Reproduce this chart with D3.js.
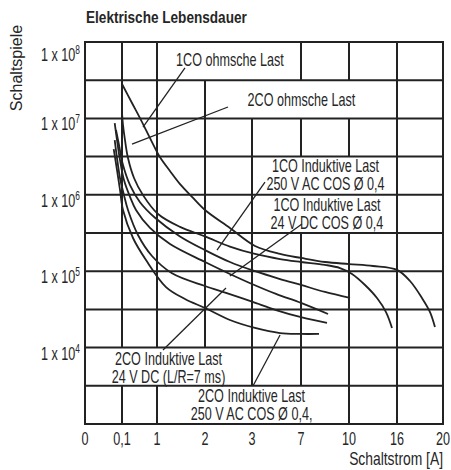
<!DOCTYPE html>
<html>
<head>
<meta charset="utf-8">
<script src="https://cdn.jsdelivr.net/npm/d3@7"></script>
<style>
  body { margin: 0; background: #fff; }
  svg { font-family: "Liberation Sans", Arial, sans-serif; }
</style>
</head>
<body>
<div id="chart"></div>
<script>
const width = 451
const height = 470

// x axis: switching current [A], tick positions are not proportional
const xTicks = [0, 0.1, 1, 2, 3, 7, 10, 16, 20]
const xTickLabels = ["0", "0,1", "1", "2", "3", "7", "10", "16", "20"]
const yTicks = [1e4, 1e5, 1e6, 1e7, 1e8]
const yExp = ["4", "5", "6", "7", "8"]

// curves: [current A, switching cycles]
const co1Ohm = [[0.1, 2.82e7], [0.357, 1.59e7], [0.589, 9.5e6], [0.846, 5.2e6], [1.06, 3.12e6], [1.27, 2.05e6],
  [1.48, 1.38e6], [1.73, 9.4e5], [2.0, 6.32e5], [2.53, 3.68e5], [3.245, 2.14e5], [5.29, 1.68e5], [7.0, 1.49e5],
  [8.5, 1.32e5], [10, 1.24e5], [13, 1.17e5], [16, 1.04e5], [17.13, 7.44e4], [18.17, 4.46e4], [18.87, 2.92e4], [19.3, 1.86e4]]
const co2Ohm = [[0.1, 1.18e7], [0.126, 8.2e6], [0.177, 5.2e6], [0.254, 3.03e6], [0.409, 1.66e6], [0.64, 9.9e5],
  [1.021, 5.6e5], [1.479, 3.8e5], [2.0, 2.85e5], [2.53, 2.1e5], [3.245, 1.68e5], [5.29, 1.44e5], [7.0, 1.32e5],
  [8.5, 1.21e5], [9.44, 1.10e5], [10.375, 9.2e4], [12, 6.6e4], [13.5, 4.46e4], [14.625, 2.92e4], [15.375, 1.81e4]]
const co1Ind250 = [[0.0838, 7.05e6], [0.0919, 4.49e6], [0.126, 2.45e6], [0.306, 1.34e6], [0.563, 8.0e5],
  [0.949, 5.0e5], [1.479, 2.85e5], [2.0, 1.89e5], [2.53, 1.32e5], [3.245, 1.0e5], [5.29, 7.9e4], [7.0, 6.6e4],
  [8.5, 5.35e4], [10.125, 4.46e4]]
const co1Ind24 = [[0.0803, 8.7e6], [0.0865, 5.2e6], [0.0946, 2.85e6], [0.151, 1.56e6], [0.306, 9.4e5],
  [0.46, 6.32e5], [0.82, 3.68e5], [1.271, 2.27e5], [2.0, 1.32e5], [2.53, 9.2e4], [3.0, 6.8e4], [4.96, 5.04e4],
  [7.0, 3.84e4], [8.69, 2.75e4]]
const co2Ind24 = [[0.0803, 5.2e6], [0.0865, 3.03e6], [0.0946, 1.66e6], [0.151, 9.9e5], [0.254, 6.32e5],
  [0.511, 2.98e5], [0.871, 1.58e5], [1.3125, 9.4e4], [2.0, 6.4e4], [2.447, 5.2e4], [3.0, 4.0e4], [4.96, 3.1e4],
  [7.0, 2.5e4], [8.625, 2.1e4]]
const co2Ind250 = [[0.0776, 3.97e6], [0.0865, 2.11e6], [0.0946, 1.16e6], [0.126, 6.32e5], [0.383, 2.72e5],
  [0.717, 1.4e5], [1.1875, 6.2e4], [1.583, 4.33e4], [2.0, 3.3e4], [2.53, 2.3e4], [3.245, 1.81e4], [5.29, 1.55e4],
  [6.92, 1.51e4], [8.125, 1.51e4]]
const curves = [co1Ohm, co2Ohm, co1Ind250, co1Ind24, co2Ind24, co2Ind250]

// labels: text lines, centre current, baseline of first line (cycles), leader [from, to]
const labels = [
  { lines: ["1CO ohmsche Last"], x: 2.53, y: 4.85e7, leader: [[1.583, 4.57e7], [0.64, 7.7e6]] },
  { lines: ["2CO ohmsche Last"], x: 7.03, y: 1.45e7, leader: [[2.489, 1.41e7], [0.357, 4.62e6]] },
  { lines: ["1CO Induktive Last", "250 V AC COS Ø 0,4"], x: 8.53, y: 1.99e6, leader: [[4.06, 1.47e6], [2.255, 1.89e5]] },
  { lines: ["1CO Induktive Last", "24 V DC COS Ø 0,4"], x: 8.62, y: 6.14e5, leader: [[7.06, 4.15e5], [2.53, 8.65e4]] },
  { lines: ["2CO Induktive Last", "24 V DC (L/R=7 ms)"], x: 1.24, y: 5.92e3, leader: [[1.125, 9.3e3], [2.447, 6.03e4]] },
  { lines: ["2CO Induktive Last", "250 V AC COS Ø 0,4,"], x: 2.99, y: 1.94e3, leader: [[3.08, 3.14e3], [5.29, 1.46e4]] }
]

const plotLeft = 85, plotTop = 42, plotBottom = 424
const colW = [37, 35, 48, 47, 49, 48, 48, 46]
const xRange = colW.reduce((a, w) => (a.push(a[a.length - 1] + w), a), [plotLeft])
const plotRight = xRange[xRange.length - 1]

const x = d3.scaleLinear().domain(xTicks).range(xRange)
const y = d3.scaleLog().domain([1e3, 1e8]).range([plotBottom, plotTop])
const yGrid = d3.range(6, 17).map(k => Math.pow(10, k / 2))

const ink = "#222"
const textInk = "#262626"
const narrow = 0.7   // squeeze Liberation Sans towards a condensed face

const svg = d3.select("#chart").append("svg")
    .attr("width", width)
    .attr("height", height)

const squeeze = (px, py, k) => `translate(${px},${py}) scale(${k},1)`

// vertical grid
svg.append("g")
    .selectAll("line")
    .data(xTicks)
    .join("line")
    .attr("x1", d => x(d)).attr("x2", d => x(d))
    .attr("y1", plotTop).attr("y2", plotBottom)
    .attr("stroke", ink).attr("stroke-width", 2)

const boxLayer = svg.append("g")
const hLayer = svg.append("g")
const curveLayer = svg.append("g")
const leaderLayer = svg.append("g")
const labelLayer = svg.append("g")
    .attr("font-size", 18)
    .attr("fill", textInk)
    .attr("text-anchor", "middle")

const lab = labelLayer.selectAll("text")
    .data(labels)
    .join("text")
    .attr("transform", d => squeeze(x(d.x), y(d.y), narrow))

lab.selectAll("tspan")
    .data(d => d.lines)
    .join("tspan")
    .attr("x", 0)
    .attr("dy", (d, i) => i ? 18.5 : 0)
    .text(d => d)

// white boxes hide the vertical grid behind the labels, row by row
const gridPx = yGrid.map(y).sort((a, b) => a - b)
lab.each(function (d) {
  const b = this.getBBox()
  const cx = x(d.x), cy = y(d.y)
  const x0 = cx + b.x * narrow, w = b.width * narrow
  const y0 = d3.max(gridPx.filter(g => g <= cy + b.y + 3))
  const y1 = d3.min(gridPx.filter(g => g >= cy + b.y + b.height - 3))
  boxLayer.append("rect")
      .attr("x", x0 - 4).attr("width", w + 8)
      .attr("y", y0).attr("height", y1 - y0)
      .attr("fill", "#fff")
})

hLayer.selectAll("line")
    .data(yGrid)
    .join("line")
    .attr("x1", plotLeft).attr("x2", plotRight)
    .attr("y1", d => y(d)).attr("y2", d => y(d))
    .attr("stroke", ink).attr("stroke-width", 2)

hLayer.append("rect")
    .attr("x", plotLeft).attr("y", plotTop)
    .attr("width", plotRight - plotLeft).attr("height", plotBottom - plotTop)
    .attr("fill", "none").attr("stroke", ink).attr("stroke-width", 2)

const line = d3.line()
    .x(d => x(d[0]))
    .y(d => y(d[1]))
    .curve(d3.curveCatmullRom.alpha(0.5))

curveLayer.selectAll("path")
    .data(curves)
    .join("path")
    .attr("d", line)
    .attr("fill", "none")
    .attr("stroke", ink)
    .attr("stroke-width", 1.8)

leaderLayer.selectAll("line")
    .data(labels)
    .join("line")
    .attr("x1", d => x(d.leader[0][0])).attr("y1", d => y(d.leader[0][1]))
    .attr("x2", d => x(d.leader[1][0])).attr("y2", d => y(d.leader[1][1]))
    .attr("stroke", ink).attr("stroke-width", 1.3)

// axes text
svg.append("g")
    .attr("font-size", 18)
    .attr("fill", textInk)
    .attr("text-anchor", "middle")
    .selectAll("text")
    .data(xTicks)
    .join("text")
    .attr("transform", d => squeeze(x(d), 445, narrow))
    .text((d, i) => xTickLabels[i])

const yl = svg.append("g")
    .attr("font-size", 18)
    .attr("fill", textInk)
    .attr("text-anchor", "end")
    .selectAll("text")
    .data(yTicks)
    .join("text")
    .attr("transform", d => squeeze(80, y(d) + (d === 1e8 ? 19 : 12), narrow))
yl.append("tspan").text("1 x 10")
yl.append("tspan")
    .attr("font-size", 12)
    .attr("dy", -7)
    .text((d, i) => yExp[i])

svg.append("text")
    .attr("transform", squeeze(443, 465, 0.77))
    .attr("text-anchor", "end")
    .attr("font-size", 18)
    .attr("fill", textInk)
    .text("Schaltstrom [A]")

svg.append("text")
    .attr("transform", "translate(22,68) rotate(-90)")
    .attr("text-anchor", "middle")
    .attr("font-size", 16)
    .attr("fill", textInk)
    .text("Schaltspiele")

svg.append("text")
    .attr("transform", squeeze(86, 23, 0.85))
    .attr("font-size", 16)
    .attr("font-weight", "bold")
    .attr("fill", textInk)
    .text("Elektrische Lebensdauer")
</script>
</body>
</html>
